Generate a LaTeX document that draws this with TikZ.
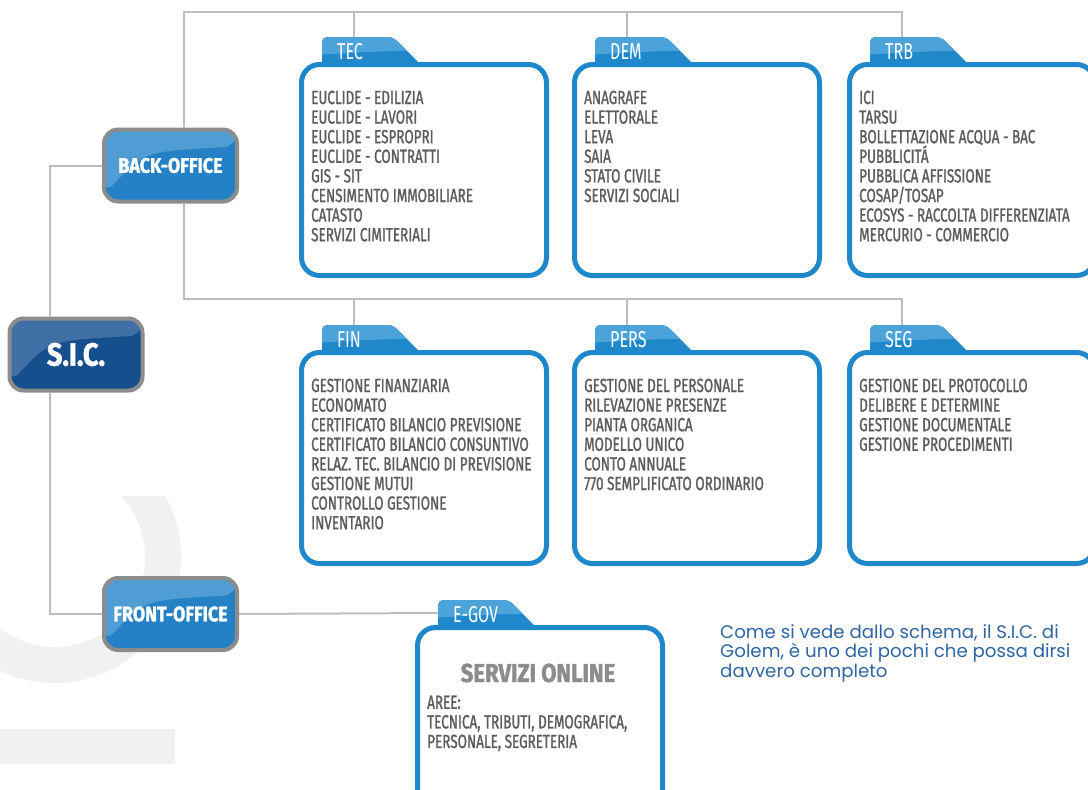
\documentclass[tikz,border=0pt]{standalone}
\usepackage{fontspec}
\usetikzlibrary{calc}
\newfontfamily\schmal[FakeStretch=0.7]{Fira Sans}
\newfontfamily\schmalfett[FakeStretch=0.71,FakeBold=1.2]{Fira Sans}
\newfontfamily\breit[FakeStretch=0.85,FakeBold=1.5]{Fira Sans}
\newfontfamily\rund{Poppins}
\definecolor{linie}{HTML}{BDBDBD}
\definecolor{rand}{HTML}{8C8C8C}
\definecolor{blauA}{HTML}{2481C5}
\definecolor{blauAhell}{HTML}{509DD3}
\definecolor{blauS}{HTML}{154F8E}
\definecolor{blauShell}{HTML}{3F6FA4}
\definecolor{blau}{HTML}{1F88CA}
\definecolor{hellblau}{HTML}{4CA3D9}
\definecolor{grau}{HTML}{5C5C5C}
\definecolor{titelgrau}{HTML}{8C8C8C}
\definecolor{notizblau}{HTML}{2E65A2}
\definecolor{wasser}{HTML}{F1F1F1}
\tikzset{
  linie/.style={draw=linie, line width=2pt},
  knopf/.style 2 args={draw=rand, line width=4pt, rounded corners=14pt,
    minimum width=133pt, minimum height=72pt, inner sep=0pt, fill=#1, text=white,
    path picture={\fill[#2] (path picture bounding box.north west)
      -- (path picture bounding box.north east)
      -- ($(path picture bounding box.north east)+(0pt,-17pt)$)
      .. controls ($(path picture bounding box.north west)+(40pt,-22pt)$)
      .. ($(path picture bounding box.north west)+(0pt,-65pt)$) -- cycle;}},
  reiter/.style={font=\schmal\fontsize{23}{23}\selectfont, text=white, inner sep=0pt},
  liste/.style={font=\schmalfett\fontsize{19}{19.6}\selectfont, text=grau, align=left, inner sep=0pt},
  titel/.style={font=\breit\bfseries\fontsize{26}{26}\selectfont, text=titelgrau, inner sep=0pt},
  notiz/.style={font=\rund\fontsize{18.2}{19.6}\selectfont, text=notizblau, align=left, inner sep=0pt}
}
% Karte mit Reiter: [Grundlinie] Name, x, y, Reiter, Liste
\newcommand{\karte}[6][28.5]{%
  \begin{scope}[shift={(#3,#4)}]
    % Reiter
    \begin{scope}
      \clip[rounded corners=5pt] (23,10) -- (23,-25) -- (94,-25) -- (129,10) -- cycle;
      \fill[blau] (0,-30) rectangle (140,12);
      \fill[hellblau] (0,-30) -- (140,-30) -- (140,-11) .. controls (90,-12) and (50,-9) .. (0,-6) -- cycle;
    \end{scope}
    % Rahmen
    \draw[blau, line width=5pt, fill=white, rounded corners=18pt] (2.5,2.5) rectangle (247.5,213.5);
    \node[reiter, anchor=west] (#2) at (38,-10) {#5};
    \node[liste, anchor=north west] (#2-list) at (12,#1) {#6};
    \coordinate (#2-top) at (55,-25);
    \coordinate (#2-left) at (23,-12);
  \end{scope}}
\begin{document}
\begin{tikzpicture}[x=1pt,y=-1pt]
  \useasboundingbox (0,0) rectangle (1088,790);
  % Wasserzeichen
  \begin{scope}
    \clip (0,496) rectangle (300,790);
    \fill[wasser, even odd rule] (55,557) circle[radius=126] (55,557) circle[radius=90];
  \end{scope}
  \fill[wasser] (0,729) rectangle (175,764);
  % Karten
  \karte{tec}{299}{62}{TEC}{EUCLIDE - EDILIZIA\\EUCLIDE - LAVORI\\EUCLIDE - ESPROPRI\\EUCLIDE - CONTRATTI\\GIS - SIT\\CENSIMENTO IMMOBILIARE\\CATASTO\\SERVIZI CIMITERIALI}
  \karte{dem}{572}{62}{DEM}{ANAGRAFE\\ELETTORALE\\LEVA\\SAIA\\STATO CIVILE\\SERVIZI SOCIALI}
  \karte{trb}{847}{62}{TRB}{ICI\\TARSU\\BOLLETTAZIONE ACQUA - BAC\\PUBBLICIT\'A\\PUBBLICA AFFISSIONE\\COSAP/TOSAP\\ECOSYS - RACCOLTA DIFFERENZIATA\\MERCURIO - COMMERCIO}
  \karte{fin}{299}{350}{FIN}{GESTIONE FINANZIARIA\\ECONOMATO\\CERTIFICATO BILANCIO PREVISIONE\\CERTIFICATO BILANCIO CONSUNTIVO\\RELAZ. TEC. BILANCIO DI PREVISIONE\\GESTIONE MUTUI\\CONTROLLO GESTIONE\\INVENTARIO}
  \karte{pers}{572}{350}{PERS}{GESTIONE DEL PERSONALE\\RILEVAZIONE PRESENZE\\PIANTA ORGANICA\\MODELLO UNICO\\CONTO ANNUALE\\770 SEMPLIFICATO ORDINARIO}
  \karte{seg}{847}{350}{SEG}{GESTIONE DEL PROTOCOLLO\\DELIBERE E DETERMINE\\GESTIONE DOCUMENTALE\\GESTIONE PROCEDIMENTI}
  \karte[70.5]{egov}{415}{625}{E-GOV}{AREE:\\TECNICA, TRIBUTI, DEMOGRAFICA,\\PERSONALE, SEGRETERIA}
  \node[titel] (egov-titel) at (538,673) {SERVIZI ONLINE};
  % Knoepfe
  \node[knopf={blauA}{blauAhell}, font=\breit\bfseries\fontsize{21}{21}\selectfont] (bo) at (170.5,165.5) {BACK-OFFICE};
  \node[knopf={blauS}{blauShell}, font=\breit\bfseries\fontsize{32}{32}\selectfont] (sic) at (76,354.5) {S.I.C.};
  \node[knopf={blauA}{blauAhell}, font=\breit\bfseries\fontsize{21}{21}\selectfont] (fo) at (170.5,614) {FRONT-OFFICE};
  % Verbindungen
  \coordinate (bus1) at (184,12);
  \coordinate (bus2) at (184,299);
  \coordinate (spine) at (50,0);
  \draw[linie] (bus1 |- bo.north) -- (bus1) -| (trb-top);
  \draw[linie] (tec-top) -- (tec-top |- bus1);
  \draw[linie] (dem-top) -- (dem-top |- bus1);
  \draw[linie] (bus2 |- bo.south) -- (bus2) -| (seg-top);
  \draw[linie] (fin-top) -- (fin-top |- bus2);
  \draw[linie] (pers-top) -- (pers-top |- bus2);
  \draw[linie] (bo.west) -| (spine |- sic.north);
  \draw[linie] (spine |- sic.south) |- (fo.west);
  \draw[linie] (fo.east) -- (egov-left);
  % Notiz
  \node[notiz, anchor=north west] (notiz) at (720,624) {Come si vede dallo schema, il S.I.C. di\\Golem, è uno dei pochi che possa dirsi\\davvero completo};
\end{tikzpicture}
\end{document}
